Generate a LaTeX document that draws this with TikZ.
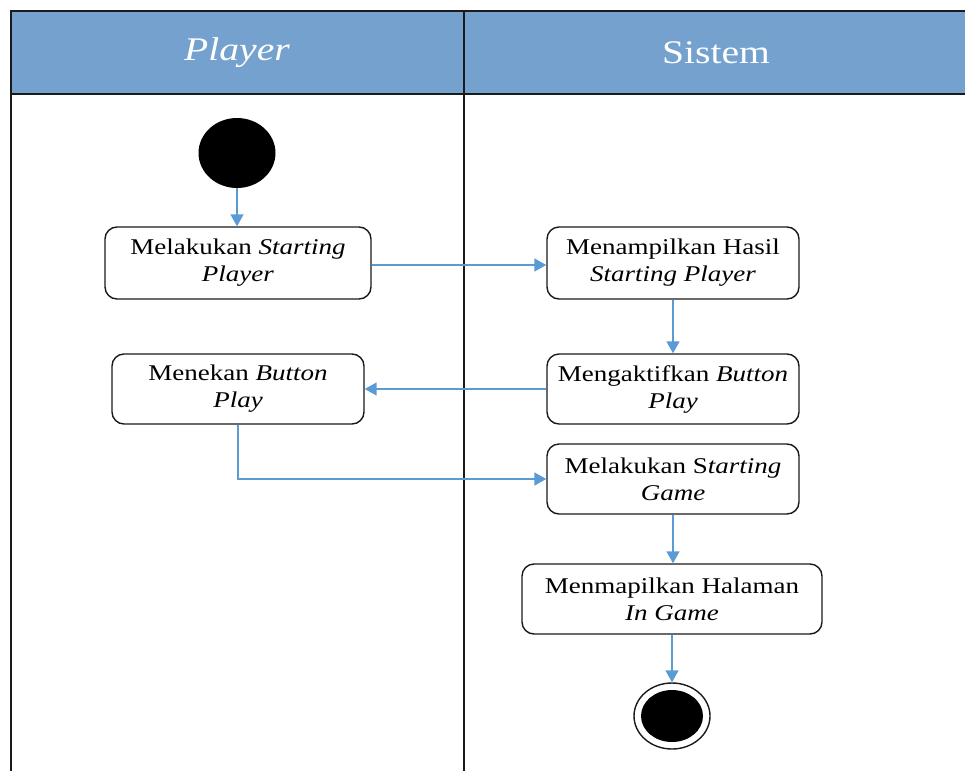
\documentclass[tikz,border=0pt]{standalone}
\usepackage{fontspec}
\setmainfont[FakeStretch=1.2]{Liberation Serif}
\usetikzlibrary{arrows.meta,shapes.geometric}
\definecolor{lanefill}{HTML}{75A1CF}
\definecolor{flowblue}{HTML}{5B9BD5}
\definecolor{frameline}{HTML}{1A1A1A}
\tikzset{
  act/.style={draw=frameline, line width=1.4pt, rounded corners=12pt, fill=white,
    align=center, font=\fontsize{22.5}{27}\selectfont, inner sep=0pt},
  flow/.style={draw=flowblue, line width=1.5pt,
    -{Triangle[width=13pt,length=12pt]}},
  lane/.style={draw=frameline, line width=2pt},
  lanetitle/.style={text=white, font=\fontsize{33}{36}\selectfont}
}
\begin{document}
\begin{tikzpicture}[x=1pt, y=-1pt]
\useasboundingbox (0,0) rectangle (965,771);
% swimlane header and frame
\fill[lanefill] (11,11) rectangle (965,94);
\draw[lane] (965,11) -- (11,11) -- (11,771);
\draw[lane] (11,94) -- (965,94);
\draw[lane] (464,11) -- (464,771);
\node[lanetitle] (hp) at (237,53) {\itshape Player};
\node[lanetitle] (hs) at (716,53) {Sistem};

% start and final states
\node[ellipse, fill=black, minimum width=77pt, minimum height=70pt, inner sep=0pt]
  (start) at (237,153) {};
\node[ellipse, draw=frameline, line width=1.4pt, fill=white, minimum width=76pt,
  minimum height=66pt, inner sep=0pt] (finish) at (672,716) {};
\node[ellipse, fill=black, minimum width=62pt, minimum height=52pt, inner sep=0pt]
  (finishdot) at (finish.center) {};

% activities
\node[act, minimum width=266pt, minimum height=72pt] (a1) at (238,263)
  {Melakukan \textit{Starting}\\\textit{Player}};
\node[act, minimum width=252pt, minimum height=72pt] (s1) at (673,263)
  {Menampilkan Hasil\\\textit{Starting Player}};
\node[act, minimum width=252pt, minimum height=70pt] (s2) at (673,389)
  {Mengaktifkan \textit{Button}\\\textit{Play}};
\node[act, minimum width=252pt, minimum height=70pt] (a2) at (238,389)
  {Menekan \textit{Button}\\\textit{Play}};
\node[act, minimum width=252pt, minimum height=70pt] (s3) at (673,479)
  {Melakukan S\textit{tarting}\\\textit{Game}};
\node[act, minimum width=300pt, minimum height=70pt] (s4) at (672,599)
  {Menmapilkan Halaman\\\textit{In Game}};

% control flow
\draw[flow] (start.south) -- (start.south |- a1.north);
\draw[flow] (a1.east |- 0,265) -- (s1.west |- 0,265);
\draw[flow] (s1.south) -- (s2.north);
\draw[flow] (s2.west) -- (a2.east);
\draw[flow] (a2.south) |- (s3.west);
\draw[flow] (s3.south) -- (s3.south |- s4.north);
\draw[flow] (s4.south) -- (finish.north);
\end{tikzpicture}
\end{document}
